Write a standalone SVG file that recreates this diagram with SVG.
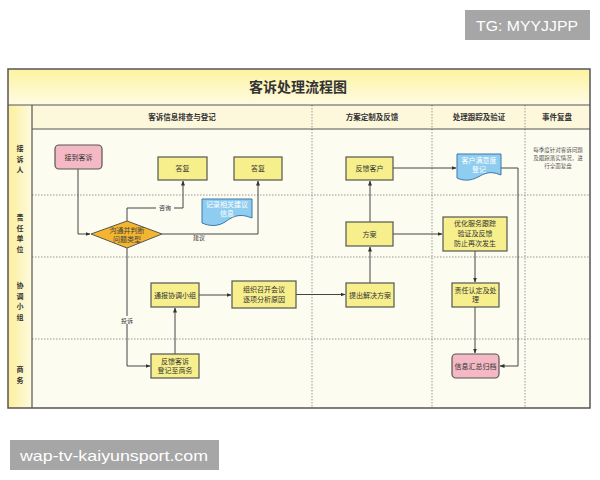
<svg xmlns="http://www.w3.org/2000/svg" width="600" height="480" viewBox="0 0 600 480">
<style>
.t{font-family:"Noto Sans CJK SC","Liberation Sans",sans-serif;fill:#333;text-anchor:middle}
.n{font-size:7px}
.h{font-size:7.5px;font-weight:bold}
.ln{font-size:7px;font-weight:bold}
.box{fill:#f7ef8c;stroke:#555;stroke-width:1.2}
.pink{fill:#f5b9c5;stroke:#555;stroke-width:1.2}
.doc{fill:#8fcdf0;stroke:#3b78ad;stroke-width:1}
.c{fill:none;stroke:#444;stroke-width:1}
.dot{stroke:#999;stroke-width:1;stroke-dasharray:1.5 1.5}
.wm{font-family:"Liberation Sans",Arial,sans-serif;fill:#fff;font-size:15px}
.note{font-size:5.5px;fill:#555}
</style>
<defs>
<marker id="a" viewBox="0 0 10 10" refX="9" refY="5" markerWidth="5" markerHeight="5" orient="auto"><path d="M0,1 L10,5 L0,9 Z" fill="#333"/></marker>
<linearGradient id="tg" x1="0" y1="0" x2="0" y2="1"><stop offset="0" stop-color="#fdf3a0"/><stop offset="1" stop-color="#fefbe4"/></linearGradient>
<linearGradient id="lg" x1="0" y1="0" x2="1" y2="0"><stop offset="0" stop-color="#fbef9a"/><stop offset="1" stop-color="#fefae0"/></linearGradient>
</defs>
<rect width="600" height="480" fill="#fff"/>
<g id="frame">
<rect x="8" y="69" width="582" height="339" fill="#fdfcf0"/>
<rect x="8" y="69" width="582" height="36" fill="url(#tg)"/>
<rect x="8" y="105" width="24" height="303" fill="url(#lg)"/>
<rect x="32" y="105" width="558" height="24" fill="#fdf8dc"/>
<line class="dot" x1="312" y1="105" x2="312" y2="408"/>
<line class="dot" x1="432" y1="105" x2="432" y2="408"/>
<line class="dot" x1="525" y1="105" x2="525" y2="408"/>
<line class="dot" x1="32" y1="195" x2="590" y2="195"/>
<line class="dot" x1="32" y1="257" x2="590" y2="257"/>
<line class="dot" x1="32" y1="339" x2="590" y2="339"/>
<line x1="8" y1="105" x2="590" y2="105" stroke="#555" stroke-width="1.2"/>
<line x1="32" y1="129" x2="590" y2="129" stroke="#555" stroke-width="1.2"/>
<line x1="32" y1="105" x2="32" y2="408" stroke="#555" stroke-width="1.2"/>
<rect x="8" y="69" width="582" height="339" fill="none" stroke="#555" stroke-width="1.5"/>
<text class="t" x="298" y="92" style="font-size:14px;font-weight:bold">客诉处理流程图</text>
<text class="t h" x="182" y="120">客诉信息排查与登记</text>
<text class="t h" x="372" y="120">方案定制及反馈</text>
<text class="t h" x="479" y="120">处理跟踪及验证</text>
<text class="t h" x="557" y="120">事件复盘</text>
<text class="t ln" x="20" y="151">接</text><text class="t ln" x="20" y="161.5">诉</text><text class="t ln" x="20" y="172">人</text>
<text class="t ln" x="20" y="220">责</text><text class="t ln" x="20" y="230.5">任</text><text class="t ln" x="20" y="241">单</text><text class="t ln" x="20" y="251.5">位</text>
<text class="t ln" x="20" y="288">协</text><text class="t ln" x="20" y="298.5">调</text><text class="t ln" x="20" y="309">小</text><text class="t ln" x="20" y="319.5">组</text>
<text class="t ln" x="20" y="372">商</text><text class="t ln" x="20" y="382.5">务</text>
<text class="t note" x="558" y="152">每季度针对客诉问题</text>
<text class="t note" x="558" y="160">及跟踪落实情况，进</text>
<text class="t note" x="558" y="168">行全面复盘</text>
</g>
<g id="connectors">
<path class="c" d="M78,169 V234 H90" marker-end="url(#a)"/>
<path class="c" d="M127,221 V208 H183 V181" marker-end="url(#a)"/>
<path class="c" d="M162,234 H258 V181" marker-end="url(#a)"/>
<path class="c" d="M127,248 V366 H150" marker-end="url(#a)"/>
<path class="c" d="M175,354 V308" marker-end="url(#a)"/>
<path class="c" d="M199,295 H231" marker-end="url(#a)"/>
<path class="c" d="M296,294.5 H345" marker-end="url(#a)"/>
<path class="c" d="M370,283 V247" marker-end="url(#a)"/>
<path class="c" d="M370,222 V181" marker-end="url(#a)"/>
<path class="c" d="M393,168 H456" marker-end="url(#a)"/>
<path class="c" d="M501,168 H518 V366 H500" marker-end="url(#a)"/>
<path class="c" d="M393,234 H442" marker-end="url(#a)"/>
<path class="c" d="M475,251 V282" marker-end="url(#a)"/>
<path class="c" d="M475,307 V353" marker-end="url(#a)"/>
<rect x="156" y="203" width="18" height="8" fill="#fdfcf0"/>
<text class="t" x="165" y="209.5" style="font-size:6px">咨询</text>
<text class="t" x="199" y="240" style="font-size:6px">建议</text>
<rect x="118" y="316" width="18" height="8" fill="#fdfcf0"/>
<text class="t" x="127" y="322.5" style="font-size:6px">投诉</text>
</g>
<g id="n1"><rect class="pink" x="55" y="145" width="47" height="24" rx="4"/><text class="t n" x="78.5" y="159.5">接到客诉</text></g>
<g id="n2"><rect class="box" x="158" y="157" width="49" height="23"/><text class="t n" x="182.5" y="171">答复</text></g>
<g id="n3"><rect class="box" x="234" y="157" width="48" height="23"/><text class="t n" x="258" y="171">答复</text></g>
<g id="n4"><path d="M127,221 L162,234 L127,248 L91,234 Z" fill="#f4b62f" stroke="#555" stroke-width="1"/><text class="t n" x="127" y="233" style="fill:#444">沟通并判断</text><text class="t n" x="127" y="242" style="fill:#444">问题类型</text></g>
<g id="n5"><path class="doc" d="M202,199 H252 V218 C238,212 231,218 225,222 C217,227 209,226 202,223 Z"/><text class="t n" x="227" y="207" style="fill:#fff">记录相关建议</text><text class="t n" x="227" y="216" style="fill:#fff">信息</text></g>
<g id="n6"><rect class="box" x="151" y="283" width="48" height="24"/><text class="t n" x="175" y="297.5">通报协调小组</text></g>
<g id="n7"><rect class="box" x="151" y="354" width="48" height="24"/><text class="t n" x="175" y="364">反馈客诉</text><text class="t n" x="175" y="373">登记至商务</text></g>
<g id="n8"><rect class="box" x="232" y="281" width="64" height="27"/><text class="t n" x="264" y="292">组织召开会议</text><text class="t n" x="264" y="302">逐项分析原因</text></g>
<g id="n9"><rect class="box" x="346" y="283" width="48" height="24"/><text class="t n" x="370" y="297.5">提出解决方案</text></g>
<g id="n10"><rect class="box" x="346" y="222" width="47" height="24"/><text class="t n" x="369.5" y="236.5">方案</text></g>
<g id="n11"><rect class="box" x="346" y="157" width="47" height="23"/><text class="t n" x="369.5" y="171">反馈客户</text></g>
<g id="n12"><path class="doc" d="M457,154 H501 V175 C489,170 484,174 478,177 C471,181 463,181 457,178 Z"/><text class="t n" x="479" y="163" style="fill:#fff">客户满意度</text><text class="t n" x="479" y="172" style="fill:#fff">登记</text></g>
<g id="n13"><rect class="box" x="443" y="217" width="64" height="34"/><text class="t n" x="475" y="226">优化服务跟踪</text><text class="t n" x="475" y="236">验证及反馈</text><text class="t n" x="475" y="246">防止再次发生</text></g>
<g id="n14"><rect class="box" x="452" y="283" width="47" height="24"/><text class="t n" x="475.5" y="293">责任认定及处</text><text class="t n" x="475.5" y="302">理</text></g>
<g id="n15"><rect class="pink" x="452" y="354" width="47" height="24" rx="4"/><text class="t n" x="475.5" y="368.5">信息汇总归档</text></g>
<g id="wm1"><rect x="465" y="10" width="125" height="30" fill="#a6a6a6"/><text class="wm" x="476" y="31" textLength="102" lengthAdjust="spacingAndGlyphs">TG: MYYJJPP</text></g>
<g id="wm2"><rect x="10" y="440" width="209" height="30" fill="#a6a6a6"/><text class="wm" x="20" y="461" textLength="188" lengthAdjust="spacingAndGlyphs">wap-tv-kaiyunsport.com</text></g>
</svg>
